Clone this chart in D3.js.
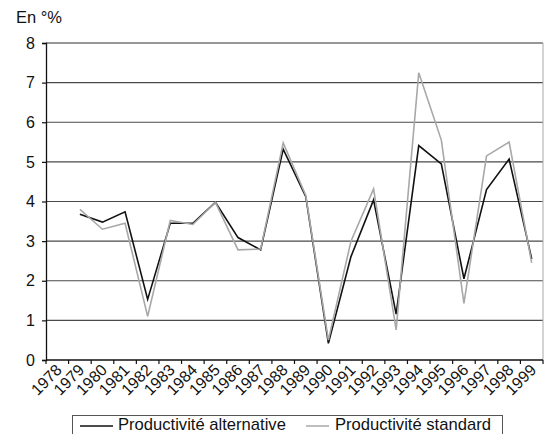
<!DOCTYPE html>
<html>
<head>
<meta charset="utf-8">
<script src="https://cdn.jsdelivr.net/npm/d3@7"></script>
<style>
  html, body { margin: 0; padding: 0; background: #fff; }
  svg { display: block; font-family: "Liberation Sans", Arial, sans-serif; }
</style>
</head>
<body>
<svg id="chart" width="549" height="434"></svg>
<script>
// Annual productivity growth, in percent
const years = ["1978","1979","1980","1981","1982","1983","1984","1985","1986","1987","1988",
               "1989","1990","1991","1992","1993","1994","1995","1996","1997","1998","1999"];
const alternative = [null, 3.68, 3.48, 3.74, 1.53, 3.45, 3.45, 3.98, 3.09, 2.78, 5.32,
                     4.12, 0.42, 2.61, 4.04, 1.16, 5.41, 4.95, 2.05, 4.30, 5.07, 2.55];
const standard    = [null, 3.80, 3.30, 3.45, 1.10, 3.52, 3.42, 3.98, 2.78, 2.80, 5.48,
                     4.15, 0.50, 3.00, 4.32, 0.76, 7.25, 5.55, 1.43, 5.15, 5.50, 2.45];
const yTicks = [0, 1, 2, 3, 4, 5, 6, 7, 8];
const unitLabel = "En °%";
const seriesNames = ["Productivité alternative", "Productivité standard"];

const svg = d3.select("#chart");
const plotL = 46, plotR = 543, plotT = 43, plotB = 360;

const x = d3.scaleBand().domain(years).range([plotL, plotR]).padding(0);
const y = d3.scaleLinear().domain([0, 8]).range([plotB, plotT]);

// horizontal gridlines
svg.append("g").selectAll("line").data(yTicks.filter(d => d > 0)).join("line")
  .attr("x1", plotL).attr("x2", plotR)
  .attr("y1", d => y(d)).attr("y2", d => y(d))
  .attr("stroke", "#4a4a4a").attr("stroke-width", 1.1);

// plot frame (top and right)
svg.append("line").attr("x1", plotL).attr("x2", plotR).attr("y1", plotT).attr("y2", plotT)
  .attr("stroke", "#8a8a8a").attr("stroke-width", 1.1);
svg.append("line").attr("x1", plotR).attr("x2", plotR).attr("y1", plotT).attr("y2", plotB)
  .attr("stroke", "#b0b0b0").attr("stroke-width", 1.1);

// y axis
const yAxis = svg.append("g").attr("transform", `translate(${plotL},0)`)
  .call(d3.axisLeft(y).tickValues(yTicks).tickSize(4).tickPadding(7).tickFormat(d3.format("d")));
yAxis.select(".domain").attr("stroke", "#111").attr("stroke-width", 1.3);
yAxis.selectAll(".tick line").attr("stroke", "#111").attr("stroke-width", 1.2);
yAxis.selectAll(".tick text").attr("font-size", 16).attr("fill", "#111")
  .attr("font-family", "Liberation Sans, Arial, sans-serif");

// x axis: ticks between categories, rotated labels
const xg = svg.append("g");
xg.append("line").attr("x1", plotL).attr("x2", plotR).attr("y1", plotB).attr("y2", plotB)
  .attr("stroke", "#111").attr("stroke-width", 1.3);
const edges = years.map(d => x(d)).concat([plotR]);
xg.selectAll("line.tk").data(edges).join("line").attr("class", "tk")
  .attr("x1", d => d).attr("x2", d => d).attr("y1", plotB).attr("y2", plotB + 4)
  .attr("stroke", "#111").attr("stroke-width", 1.2);
xg.selectAll("text").data(years).join("text")
  .attr("transform", d => `translate(${x(d) + x.bandwidth() / 2 + 5.5},${plotB + 11}) rotate(-45)`)
  .attr("text-anchor", "end")
  .attr("font-size", 16)
  .attr("fill", "#111")
  .text(d => d);

// unit label
svg.append("text").attr("x", 16).attr("y", 23).attr("font-size", 16.5).attr("fill", "#111")
  .text(unitLabel);

// series lines
const line = d3.line()
  .defined(d => d.v != null)
  .x(d => x(d.year) + x.bandwidth() / 2)
  .y(d => y(d.v));
const toPts = arr => years.map((yr, i) => ({ year: yr, v: arr[i] }));

svg.append("path").datum(toPts(alternative))
  .attr("d", line).attr("fill", "none")
  .attr("stroke", "#111").attr("stroke-width", 1.6).attr("stroke-linejoin", "miter");
svg.append("path").datum(toPts(standard))
  .attr("d", line).attr("fill", "none")
  .attr("stroke", "#a8a8a8").attr("stroke-width", 1.6).attr("stroke-linejoin", "miter");

// legend (box runs past the lower edge)
const lg = svg.append("g");
lg.append("rect").attr("x", 72.5).attr("y", 415.5).attr("width", 430).attr("height", 30)
  .attr("fill", "#fff").attr("stroke", "#555").attr("stroke-width", 1);
const legendItems = [
  { name: seriesNames[0], color: "#111", x0: 80, x1: 113, tx: 118 },
  { name: seriesNames[1], color: "#a8a8a8", x0: 306, x1: 329, tx: 335 }
];
legendItems.forEach(it => {
  lg.append("line").attr("x1", it.x0).attr("x2", it.x1).attr("y1", 426).attr("y2", 426)
    .attr("stroke", it.color).attr("stroke-width", 1.5);
  lg.append("text").attr("x", it.tx).attr("y", 430).attr("font-size", 16.6).attr("fill", "#111")
    .text(it.name);
});
</script>
</body>
</html>
